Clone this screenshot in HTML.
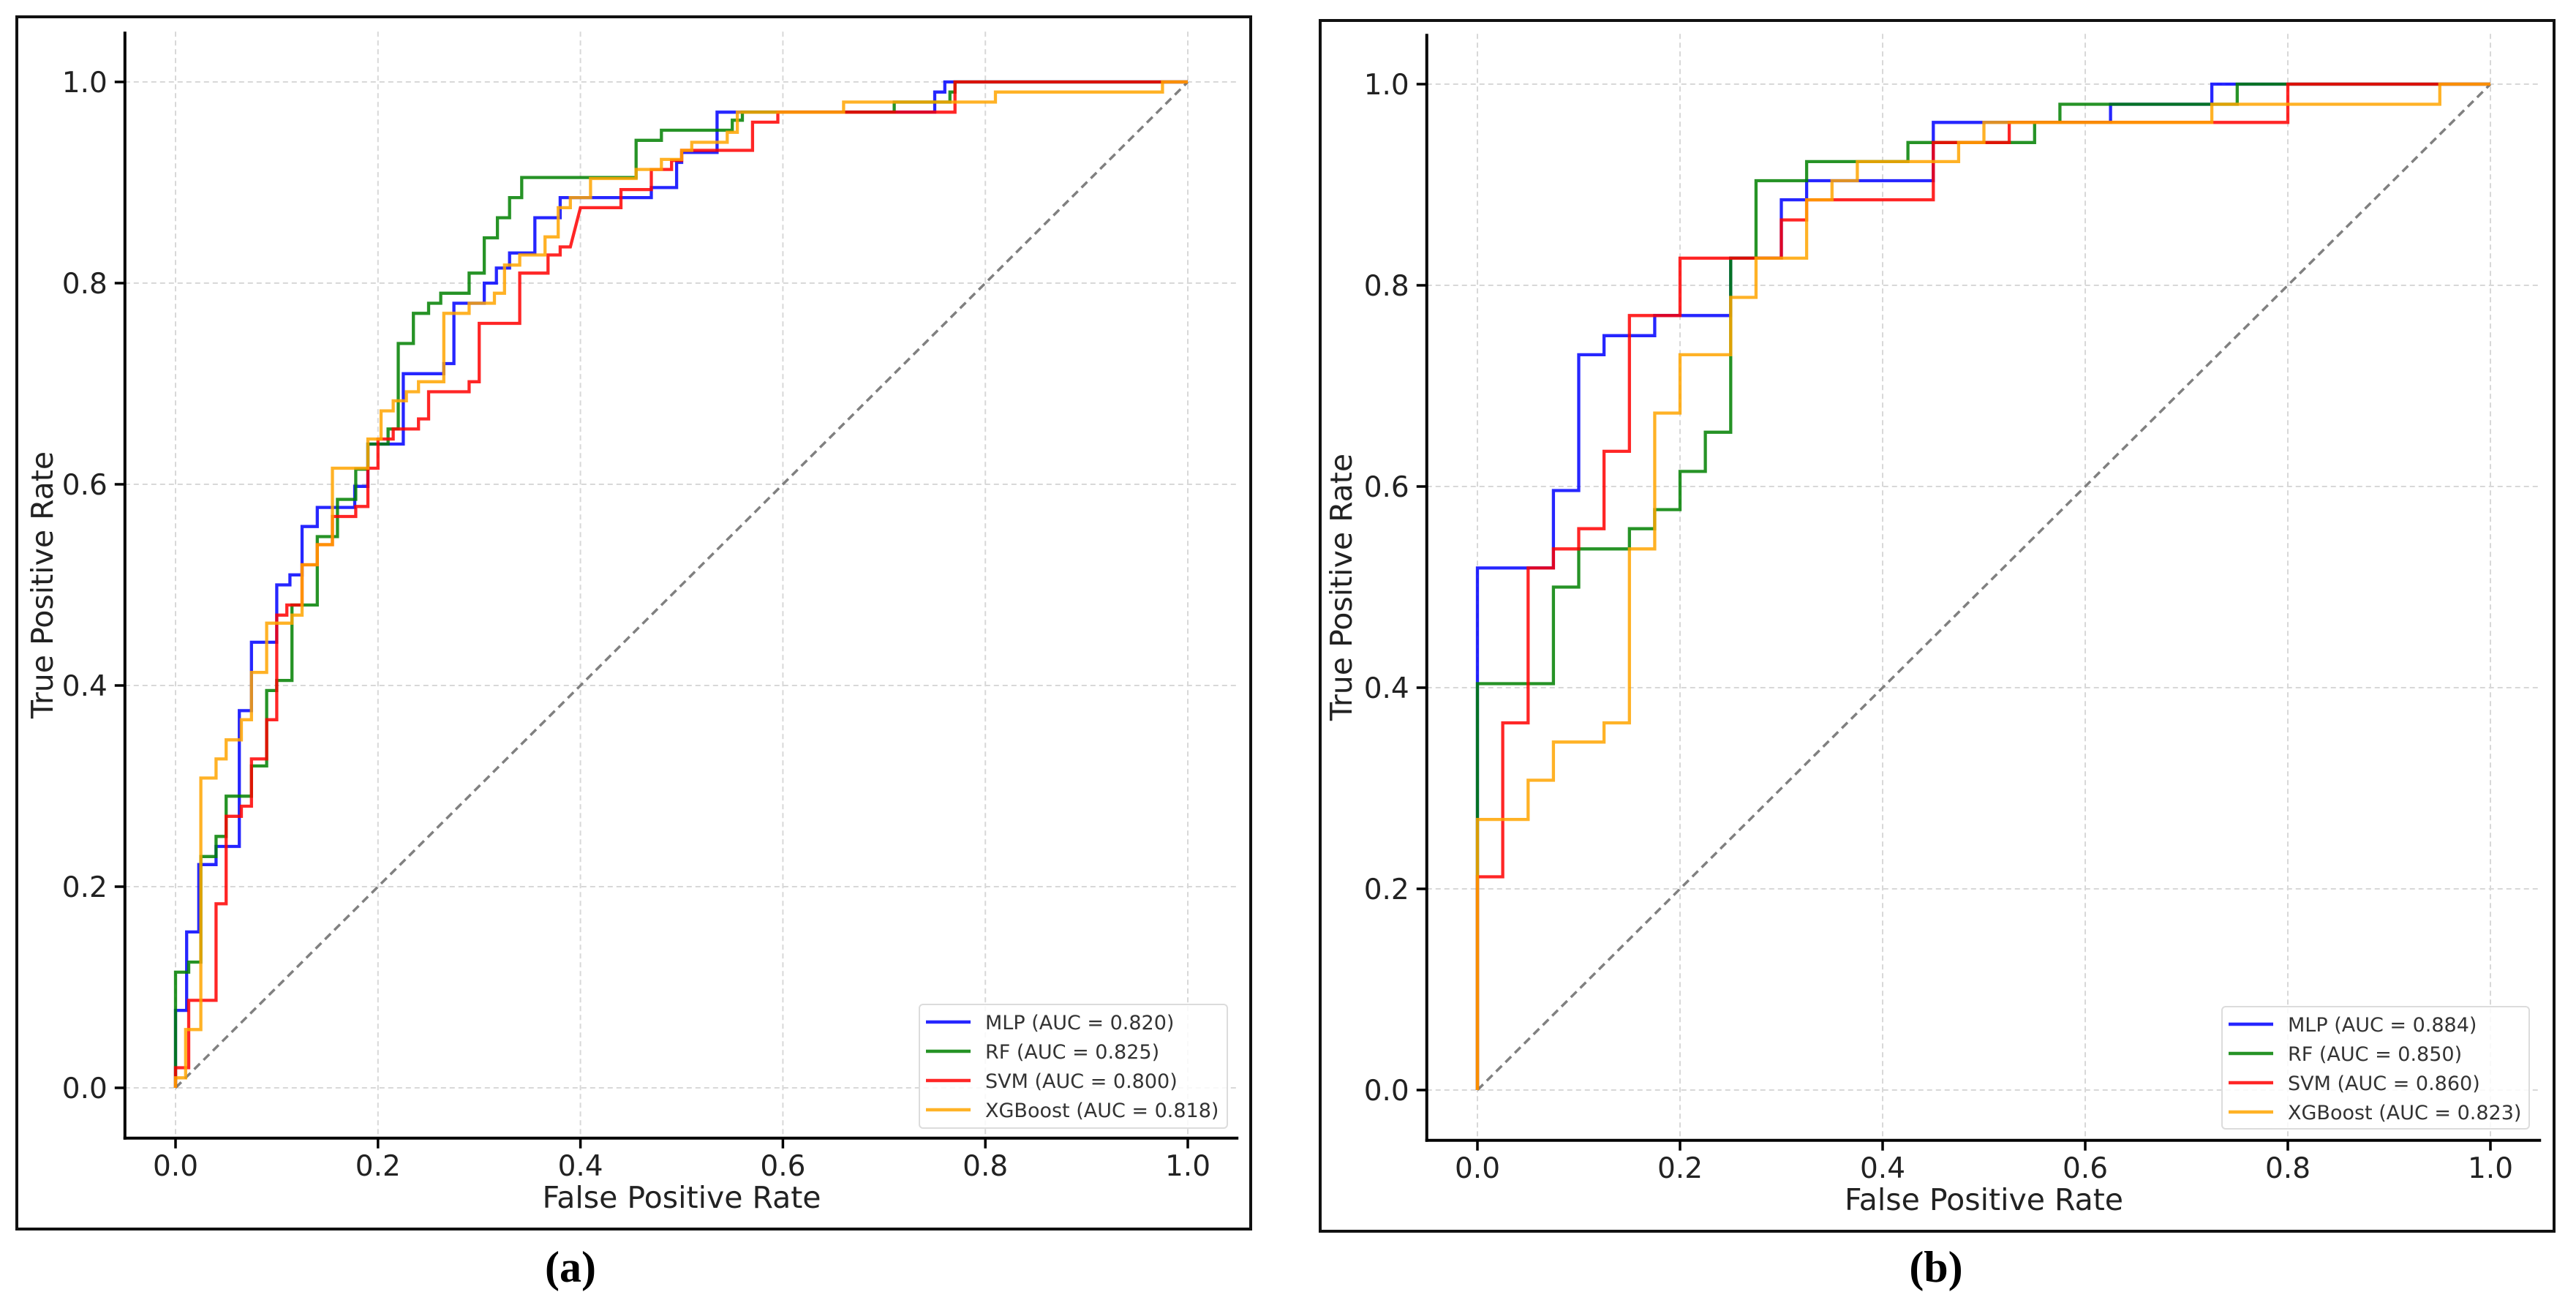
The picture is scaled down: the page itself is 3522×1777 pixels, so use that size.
<!DOCTYPE html>
<html><head><meta charset="utf-8"><style>
html,body{margin:0;padding:0;background:#fff;}
svg text{font-family:"DejaVu Sans","Liberation Sans",sans-serif;}
</style></head><body>
<svg id="fig" xmlns="http://www.w3.org/2000/svg" width="3522" height="1772" viewBox="0 0 3522 1772"></svg>
<script>
// ---- Panel (a) data ----
const ticks = [0, 0.2, 0.4, 0.6, 0.8, 1.0];
const tickLabels = ["0.0", "0.2", "0.4", "0.6", "0.8", "1.0"];
const seriesNames = ["MLP", "RF", "SVM", "XGBoost"];
const aucA = ["0.820", "0.825", "0.800", "0.818"];
const aucB = ["0.884", "0.850", "0.860", "0.823"];

const aMlpFpr = [0,0,0.011,0.011,0.023,0.023,0.04,0.04,0.063,0.063,0.075,0.075,0.1,0.1,0.113,0.113,0.125,0.125,0.14,0.14,0.177,0.177,0.19,0.19,0.225,0.225,0.265,0.265,0.275,0.275,0.305,0.305,0.317,0.317,0.33,0.33,0.355,0.355,0.38,0.38,0.47,0.47,0.495,0.495,0.5,0.5,0.535,0.535,0.75,0.75,0.76,0.76,1];
const aMlpTpr = [0,0.077,0.077,0.155,0.155,0.222,0.222,0.24,0.24,0.375,0.375,0.443,0.443,0.5,0.5,0.51,0.51,0.558,0.558,0.577,0.577,0.598,0.598,0.64,0.64,0.71,0.71,0.72,0.72,0.78,0.78,0.8,0.8,0.815,0.815,0.83,0.83,0.865,0.865,0.885,0.885,0.895,0.895,0.92,0.92,0.93,0.93,0.97,0.97,0.99,0.99,1,1];
const aRfFpr = [0,0,0.013,0.013,0.025,0.025,0.04,0.04,0.05,0.05,0.075,0.075,0.09,0.09,0.1,0.1,0.115,0.115,0.14,0.14,0.16,0.16,0.178,0.178,0.19,0.19,0.21,0.21,0.22,0.22,0.235,0.235,0.25,0.25,0.262,0.262,0.29,0.29,0.305,0.305,0.318,0.318,0.33,0.33,0.342,0.342,0.455,0.455,0.48,0.48,0.55,0.55,0.56,0.56,0.71,0.71,0.765,0.765,0.77,0.77,1];
const aRfTpr = [0,0.115,0.115,0.125,0.125,0.23,0.23,0.25,0.25,0.29,0.29,0.32,0.32,0.395,0.395,0.405,0.405,0.48,0.48,0.548,0.548,0.585,0.585,0.615,0.615,0.64,0.64,0.655,0.655,0.74,0.74,0.77,0.77,0.78,0.78,0.79,0.79,0.81,0.81,0.845,0.845,0.865,0.865,0.885,0.885,0.905,0.905,0.942,0.942,0.952,0.952,0.962,0.962,0.97,0.97,0.98,0.98,0.99,0.99,1,1];
const aSvmFpr = [0,0,0.013,0.013,0.04,0.04,0.05,0.05,0.065,0.065,0.075,0.075,0.09,0.09,0.1,0.1,0.11,0.11,0.125,0.125,0.14,0.14,0.155,0.155,0.178,0.178,0.19,0.19,0.2,0.2,0.215,0.215,0.24,0.24,0.25,0.25,0.29,0.29,0.3,0.3,0.34,0.34,0.368,0.368,0.38,0.38,0.39,0.4,0.44,0.44,0.47,0.47,0.49,0.49,0.5,0.5,0.57,0.57,0.595,0.595,0.77,0.77,1];
const aSvmTpr = [0,0.02,0.02,0.087,0.087,0.183,0.183,0.27,0.27,0.28,0.28,0.327,0.327,0.366,0.366,0.47,0.47,0.48,0.48,0.52,0.52,0.54,0.54,0.568,0.568,0.578,0.578,0.616,0.616,0.645,0.645,0.655,0.655,0.665,0.665,0.692,0.692,0.702,0.702,0.76,0.76,0.81,0.81,0.828,0.828,0.836,0.836,0.875,0.875,0.893,0.893,0.913,0.913,0.922,0.922,0.932,0.932,0.96,0.96,0.97,0.97,1,1];
const aXgbFpr = [0,0,0.01,0.01,0.025,0.025,0.04,0.04,0.05,0.05,0.065,0.065,0.075,0.075,0.09,0.09,0.115,0.115,0.125,0.125,0.14,0.14,0.155,0.155,0.19,0.19,0.203,0.203,0.215,0.215,0.228,0.228,0.24,0.24,0.265,0.265,0.29,0.29,0.315,0.315,0.325,0.325,0.34,0.34,0.365,0.365,0.378,0.378,0.39,0.39,0.41,0.41,0.455,0.455,0.48,0.48,0.5,0.5,0.51,0.51,0.545,0.545,0.555,0.555,0.66,0.66,0.81,0.81,0.975,0.975,1];
const aXgbTpr = [0,0.01,0.01,0.058,0.058,0.308,0.308,0.327,0.327,0.346,0.346,0.366,0.366,0.413,0.413,0.462,0.462,0.47,0.47,0.52,0.52,0.54,0.54,0.616,0.616,0.645,0.645,0.673,0.673,0.683,0.683,0.692,0.692,0.702,0.702,0.77,0.77,0.78,0.78,0.79,0.79,0.818,0.818,0.828,0.828,0.846,0.846,0.875,0.875,0.885,0.885,0.904,0.904,0.913,0.913,0.923,0.923,0.932,0.932,0.94,0.94,0.95,0.95,0.97,0.97,0.98,0.98,0.99,0.99,1,1];

// ---- Panel (b) data ----
const bMlpFpr = [0,0,0.075,0.075,0.1,0.1,0.125,0.125,0.175,0.175,0.25,0.25,0.3,0.3,0.325,0.325,0.45,0.45,0.625,0.625,0.725,0.725,1];
const bMlpTpr = [0,0.519,0.519,0.596,0.596,0.731,0.731,0.75,0.75,0.77,0.77,0.827,0.827,0.885,0.885,0.904,0.904,0.962,0.962,0.98,0.98,1,1];
const bRfFpr = [0,0,0.075,0.075,0.1,0.1,0.15,0.15,0.175,0.175,0.2,0.2,0.225,0.225,0.25,0.25,0.275,0.275,0.325,0.325,0.425,0.425,0.55,0.55,0.575,0.575,0.75,0.75,1];
const bRfTpr = [0,0.404,0.404,0.5,0.5,0.538,0.538,0.558,0.558,0.577,0.577,0.615,0.615,0.654,0.654,0.827,0.827,0.904,0.904,0.923,0.923,0.942,0.942,0.962,0.962,0.98,0.98,1,1];
const bSvmFpr = [0,0,0.025,0.025,0.05,0.05,0.075,0.075,0.1,0.1,0.125,0.125,0.15,0.15,0.2,0.2,0.3,0.3,0.325,0.325,0.45,0.45,0.525,0.525,0.8,0.8,1];
const bSvmTpr = [0,0.212,0.212,0.365,0.365,0.519,0.519,0.538,0.538,0.558,0.558,0.635,0.635,0.77,0.77,0.827,0.827,0.865,0.865,0.885,0.885,0.942,0.942,0.962,0.962,1,1];
const bXgbFpr = [0,0,0.05,0.05,0.075,0.075,0.125,0.125,0.15,0.15,0.175,0.175,0.2,0.2,0.25,0.25,0.275,0.275,0.325,0.325,0.35,0.35,0.375,0.375,0.475,0.475,0.5,0.5,0.725,0.725,0.95,0.95,1];
const bXgbTpr = [0,0.269,0.269,0.308,0.308,0.346,0.346,0.365,0.365,0.538,0.538,0.673,0.673,0.731,0.731,0.788,0.788,0.827,0.827,0.885,0.885,0.904,0.904,0.923,0.923,0.942,0.942,0.962,0.962,0.98,0.98,1,1];

const colors = ["#0000ff", "#008000", "#ff0000", "#ffa500"];
const NS = "http://www.w3.org/2000/svg";
const svg = document.getElementById("fig");

function mk(tag, attrs, parent) {
  const e = document.createElementNS(NS, tag);
  for (const k in attrs) e.setAttribute(k, attrs[k]);
  (parent || svg).appendChild(e);
  return e;
}

function drawPanel(p) {
  const g = mk("g", {});
  
  
  const sx = v => p.x0 + v * p.kx;
  const sy = v => p.y0 - v * p.ky;
  const left = sx(-0.05), right = sx(1.05), top = sy(1.05), bottom = sy(-0.05);

  const border = mk("rect", {x: p.bx0, y: p.by0, width: p.bx1 - p.bx0, height: p.by1 - p.by0, fill: "none", stroke: "#111", "stroke-width": 4}, g);
  
  

  ticks.forEach((t, i) => {
    const gx = mk("line", {x1: sx(t), x2: sx(t), y1: top, y2: bottom, stroke: "#d8d8d8", "stroke-width": 2, "stroke-dasharray": "7,5"}, g);
    
    
    const gy = mk("line", {x1: left, x2: right, y1: sy(t), y2: sy(t), stroke: "#d8d8d8", "stroke-width": 2, "stroke-dasharray": "7,5"}, g);
    
    
  });

  const diag = mk("line", {x1: sx(0), y1: sy(0), x2: sx(1), y2: sy(1), stroke: "#808080", "stroke-width": 3.5, "stroke-dasharray": "11,7"}, g);
  
  

  p.series.forEach((s, i) => {
    const pts = s[0].map((f, j) => sx(f).toFixed(1) + "," + sy(s[1][j]).toFixed(1)).join(" ");
    const pl = mk("polyline", {points: pts, fill: "none", stroke: colors[i], "stroke-width": 4.3, "stroke-opacity": 0.85, "stroke-linejoin": "miter"}, g);
    
    
  });

  const ly = mk("line", {x1: left, x2: left, y1: top, y2: bottom + 2, stroke: "#000", "stroke-width": 4}, g);
  
  
  const lx = mk("line", {x1: left - 2, x2: right, y1: bottom, y2: bottom, stroke: "#000", "stroke-width": 4}, g);
  
  

  ticks.forEach((t, i) => {
    const tx = mk("line", {x1: sx(t), x2: sx(t), y1: bottom, y2: bottom + 14, stroke: "#000", "stroke-width": 3.5}, g);
    
    
    const lt = mk("text", {x: sx(t), y: bottom + 51, "font-size": 39, "text-anchor": "middle", fill: "#222"}, g);
    lt.textContent = tickLabels[i];
    
    
    const ty = mk("line", {x1: left - 14, x2: left, y1: sy(t), y2: sy(t), stroke: "#000", "stroke-width": 3.5}, g);
    
    
    const lyt = mk("text", {x: left - 24, y: sy(t) + 14, "font-size": 39, "text-anchor": "end", fill: "#222"}, g);
    lyt.textContent = tickLabels[i];
    
    
  });

  const xt = mk("text", {x: (left + right) / 2, y: bottom + 95, "font-size": 41, "text-anchor": "middle", fill: "#222"}, g);
  xt.textContent = "False Positive Rate";
  
  
  const cy = (top + bottom) / 2;
  const yt = mk("text", {x: p.ylabX, y: cy, "font-size": 41, "text-anchor": "middle", fill: "#222", transform: "rotate(-90 " + p.ylabX + " " + cy + ")"}, g);
  yt.textContent = "True Positive Rate";
  
  

  const lg = mk("g", {}, g);
  
  
  mk("rect", {x: p.lx0, y: p.ly0, width: p.lx1 - p.lx0, height: p.ly1 - p.ly0, rx: 5, fill: "#fff", "fill-opacity": 0.85, stroke: "#dcdcdc", "stroke-width": 2}, lg);
  seriesNames.forEach((n, i) => {
    const ry = p.ly0 + 24 + i * 40;
    const ll = mk("line", {x1: p.lx0 + 9, x2: p.lx0 + 70, y1: ry, y2: ry, stroke: colors[i], "stroke-width": 4.5, "stroke-opacity": 0.85}, lg);
    
    
    const lt = mk("text", {x: p.lx0 + 90, y: ry + 10, "font-size": 27, fill: "#333"}, lg);
    lt.textContent = n + " (AUC = " + p.auc[i] + ")";
    
    
  });

  const cap = mk("text", {x: p.capX, y: 1752, "font-size": 60, "font-weight": "bold", "text-anchor": "middle", fill: "#000", style: "font-family:'Liberation Serif',serif"}, g);
  cap.textContent = "(" + p.id + ")";
  
  
}

drawPanel({id: "a", x0: 240, y0: 1487, kx: 1384, ky: 1375, bx0: 23, by0: 23, bx1: 1710, by1: 1680,
  ylabX: 72, lx0: 1257, ly0: 1373, lx1: 1678, ly1: 1542, capX: 780, auc: aucA,
  series: [[aMlpFpr, aMlpTpr], [aRfFpr, aRfTpr], [aSvmFpr, aSvmTpr], [aXgbFpr, aXgbTpr]]});
drawPanel({id: "b", x0: 2020, y0: 1490, kx: 1385, ky: 1375, bx0: 1805, by0: 28, bx1: 3492, by1: 1683,
  ylabX: 1848, lx0: 3038, ly0: 1376, lx1: 3458, ly1: 1543, capX: 2647, auc: aucB,
  series: [[bMlpFpr, bMlpTpr], [bRfFpr, bRfTpr], [bSvmFpr, bSvmTpr], [bXgbFpr, bXgbTpr]]});
</script>
</body></html>
